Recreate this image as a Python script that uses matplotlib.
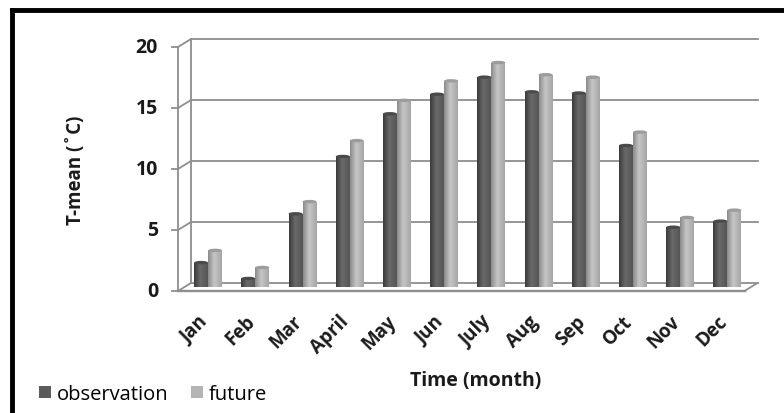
import numpy as np
import matplotlib
matplotlib.use("Agg")
import matplotlib.pyplot as plt
import matplotlib.transforms as mtransforms
from matplotlib.patches import Ellipse, Patch
from matplotlib.lines import Line2D

months = ["Jan", "Feb", "Mar", "April", "May", "Jun", "July", "Aug", "Sep", "Oct", "Nov", "Dec"]
observation = [2.0, 0.7, 6.0, 10.7, 14.2, 15.8, 17.2, 16.0, 15.9, 11.6, 4.9, 5.4]
future = [3.0, 1.6, 7.0, 12.0, 15.3, 16.9, 18.4, 17.4, 17.2, 12.7, 5.7, 6.3]
yticks = [0, 5, 10, 15, 20]

plt.rcParams['font.family'] = ['Open Sans', 'DejaVu Sans']

W, H = 784, 414
fig = plt.figure(figsize=(W / 100, H / 100), dpi=100)

def fx(px):
    return px / W

def fy(py):
    return 1 - py / H

# axes in "mid-depth" coordinates
x0, x1 = 184.5, 751.0
y0, y1 = 288.0, 44.0
ax = fig.add_axes([fx(x0), fy(y0), fx(x1) - fx(x0), fy(y1) - fy(y0)])
ax.set_xlim(0, 12)
ax.set_ylim(0, 20)
ax.axis('off')

dx, dy = 6.5, 4.0
back = ax.transData + mtransforms.ScaledTranslation(dx / 100, dy / 100, fig.dpi_scale_trans)
front = ax.transData + mtransforms.ScaledTranslation(-dx / 100, -dy / 100, fig.dpi_scale_trans)

grid_c = '#8e8e8e'
lw = 1.3
txt_c = '#1a1a1a'
# back wall gridlines
for v in yticks:
    ax.add_line(Line2D([0, 12], [v, v], transform=back, color=grid_c, lw=lw, clip_on=False, zorder=1))
    p_front = front.transform((0, v))
    p_back = back.transform((0, v))
    fig.add_artist(Line2D([p_front[0] / W, p_back[0] / W], [p_front[1] / H, p_back[1] / H],
                          color=grid_c, lw=lw, zorder=1))
    fig.add_artist(Line2D([(p_front[0] - 6) / W, p_front[0] / W], [p_front[1] / H, p_front[1] / H],
                          color=grid_c, lw=lw, zorder=1))
    ax.text(0, v, str(v), transform=front + mtransforms.ScaledTranslation(-0.2, 0, fig.dpi_scale_trans),
            ha='right', va='center', fontsize=14, fontweight='bold', color=txt_c)

ax.add_line(Line2D([0, 0], [0, 20], transform=back, color=grid_c, lw=lw, clip_on=False, zorder=1))
ax.add_line(Line2D([0, 0], [0, 20], transform=front, color=grid_c, lw=lw, clip_on=False, zorder=1))
ax.add_line(Line2D([0, 12], [0, 0], transform=front, color=grid_c, lw=lw + 0.4, clip_on=False, zorder=5))
pf = front.transform((12, 0)); pb = back.transform((12, 0))
fig.add_artist(Line2D([pf[0] / W, pb[0] / W], [pf[1] / H, pb[1] / H], color=grid_c, lw=lw, zorder=5))

x = np.arange(len(months)) + 0.5
bw = 0.296

def shade(color_l, color_m, color_r):
    cols = [matplotlib.colors.to_rgb(c) for c in (color_l, color_m, color_r)]
    t = np.linspace(0, 1, 64)
    out = np.zeros((1, 64, 3))
    for i, tt in enumerate(t):
        if tt < 0.45:
            a = tt / 0.45
            c = [(1 - a) * cols[0][k] + a * cols[1][k] for k in range(3)]
        else:
            a = (tt - 0.45) / 0.55
            c = [(1 - a) * cols[1][k] + a * cols[2][k] for k in range(3)]
        out[0, i] = c
    return out

obs_img = shade('#3a3a3a', '#6a6a6a', '#555555')
fut_img = shade('#8a8a8a', '#c6c6c6', '#a5a5a5')

bars_o = ax.bar(x - bw / 2, observation, bw, color='#5c5c5c', edgecolor='none', zorder=3)
bars_f = ax.bar(x + bw / 2, future, bw, color='#b4b4b4', edgecolor='none', zorder=3)

cap_h = 0.28
for bars, img, capc in ((bars_o, obs_img, '#4a4a4a'), (bars_f, fut_img, '#9c9c9c')):
    for p in bars:
        bx, by, w, h = p.get_x(), p.get_y(), p.get_width(), p.get_height()
        im = ax.imshow(img, extent=[bx, bx + w, by, by + h], aspect='auto', zorder=3.5,
                       interpolation='bilinear')
        im.set_clip_path(p)
        ax.add_patch(Ellipse((bx + w / 2, by + h), w, cap_h, facecolor=capc, edgecolor='none', zorder=4))
        ax.add_patch(Ellipse((bx + w / 2, by), w, cap_h, facecolor=img[0, 20], edgecolor='none', zorder=3.4))

for xi, m in zip(x, months):
    ax.text(xi, 0, m, transform=front + mtransforms.ScaledTranslation(-0.04, -0.2, fig.dpi_scale_trans),
            rotation=45, rotation_mode='anchor', ha='right', va='top',
            fontsize=13.5, fontweight='bold', color=txt_c)

fig.text(fx(476), fy(381), 'Time (month)', ha='center', va='center', fontsize=14,
         fontweight='bold', color=txt_c)
fig.text(fx(76), fy(170), 'T-mean (˚C)', ha='center', va='center', rotation=90, fontsize=13.5,
         fontweight='bold', color=txt_c)

handles = [Patch(facecolor='#5c5c5c', edgecolor='none', label='observation'),
           Patch(facecolor='#b4b4b4', edgecolor='none', label='future')]
fig.legend(handles=handles, loc='center left', bbox_to_anchor=(fx(39), fy(395)), ncol=2,
           frameon=False, fontsize=14.5, handlelength=0.6, handleheight=0.6, handletextpad=0.3,
           columnspacing=1.1, borderpad=0, borderaxespad=0)

# outer frame (left and top)
fig.add_artist(Line2D([fx(12), fx(12)], [0, fy(11)], color='black', lw=3.5))
fig.add_artist(Line2D([fx(12), 1.0], [fy(11), fy(11)], color='black', lw=3.5))

fig.savefig('out.png', dpi=100)
